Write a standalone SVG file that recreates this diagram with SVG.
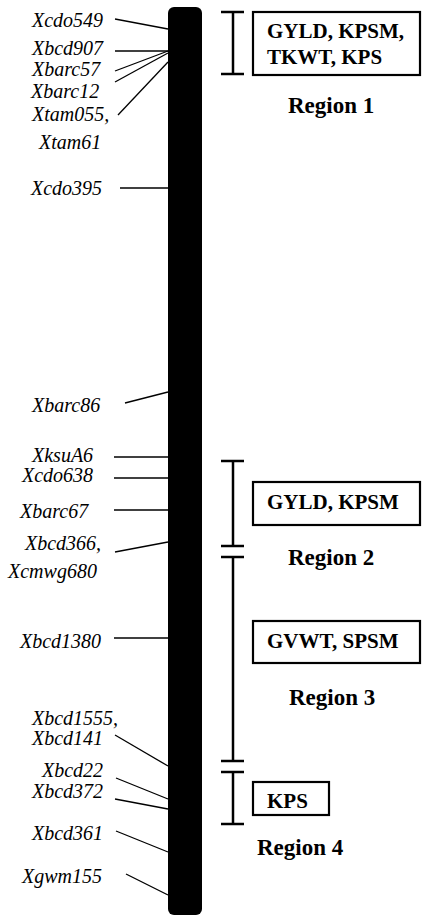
<svg xmlns="http://www.w3.org/2000/svg" width="422" height="918" viewBox="0 0 422 918">
<style>
.m{font-family:'Liberation Serif','DejaVu Serif',serif;font-style:italic;font-size:20px;fill:#000}
.b{font-family:'Liberation Serif','DejaVu Serif',serif;font-weight:bold;font-size:21px;fill:#000}
.r{font-family:'Liberation Serif','DejaVu Serif',serif;font-weight:bold;font-size:23px;fill:#000}
.c line{stroke:#000;stroke-width:1.3}
.br line{stroke:#000;stroke-width:2.5}
.bx{fill:#fff;stroke:#000;stroke-width:2.2}
</style>
<rect width="422" height="918" fill="#fff"/>
<g id="chromosome"><rect x="168" y="7" width="34" height="908" rx="6" fill="#000"/></g>
<g id="markers">
<text class="m" x="32" y="27">Xcdo549</text>
<text class="m" x="32" y="55">Xbcd907</text>
<text class="m" x="32" y="76">Xbarc57</text>
<text class="m" x="31" y="98">Xbarc12</text>
<text class="m" x="32" y="121">Xtam055,</text>
<text class="m" x="39" y="149">Xtam61</text>
<text class="m" x="31" y="195">Xcdo395</text>
<text class="m" x="32" y="412">Xbarc86</text>
<text class="m" x="32" y="462">XksuA6</text>
<text class="m" x="22" y="482">Xcdo638</text>
<text class="m" x="20" y="518">Xbarc67</text>
<text class="m" x="25" y="550">Xbcd366,</text>
<text class="m" x="8" y="578">Xcmwg680</text>
<text class="m" x="20" y="648">Xbcd1380</text>
<text class="m" x="32" y="725">Xbcd1555,</text>
<text class="m" x="32" y="745">Xbcd141</text>
<text class="m" x="42" y="777">Xbcd22</text>
<text class="m" x="32" y="798">Xbcd372</text>
<text class="m" x="32" y="840">Xbcd361</text>
<text class="m" x="22" y="883">Xgwm155</text>
</g>
<g id="connectors" class="c">
<line x1="115" y1="19" x2="168" y2="29"/>
<line x1="115" y1="51" x2="168" y2="51"/>
<line x1="115" y1="71" x2="168" y2="51"/>
<line x1="115" y1="82" x2="168" y2="53"/>
<line x1="118" y1="115" x2="168" y2="62"/>
<line x1="120" y1="188" x2="168" y2="188"/>
<line x1="125" y1="403" x2="168" y2="392"/>
<line x1="114" y1="457" x2="168" y2="457"/>
<line x1="114" y1="478" x2="168" y2="478"/>
<line x1="114" y1="510" x2="168" y2="510"/>
<line x1="115" y1="552" x2="168" y2="542"/>
<line x1="114" y1="638" x2="168" y2="638"/>
<line x1="115" y1="735" x2="168" y2="766"/>
<line x1="116" y1="778" x2="168" y2="799"/>
<line x1="115" y1="799" x2="168" y2="809"/>
<line x1="116" y1="831" x2="168" y2="852"/>
<line x1="126" y1="874" x2="168" y2="895"/>
</g>
<g id="region1">
<g class="br"><line x1="233" y1="12" x2="233" y2="74"/><line x1="221" y1="12" x2="244" y2="12"/><line x1="221" y1="74" x2="244" y2="74"/></g>
<rect class="bx" x="253" y="12" width="167" height="63"/>
<text class="b" x="267" y="38">GYLD, KPSM,</text>
<text class="b" x="267" y="64">TKWT, KPS</text>
<text class="r" x="288" y="113">Region 1</text>
</g>
<g id="region2">
<g class="br"><line x1="233" y1="461" x2="233" y2="546"/><line x1="221" y1="461" x2="244" y2="461"/><line x1="221" y1="546" x2="244" y2="546"/></g>
<rect class="bx" x="253" y="482" width="167" height="43"/>
<text class="b" x="267" y="509">GYLD, KPSM</text>
<text class="r" x="288" y="565">Region 2</text>
</g>
<g id="region3">
<g class="br"><line x1="233" y1="557" x2="233" y2="761"/><line x1="221" y1="557" x2="244" y2="557"/><line x1="221" y1="761" x2="244" y2="761"/></g>
<rect class="bx" x="253" y="621" width="167" height="42"/>
<text class="b" x="267" y="648">GVWT, SPSM</text>
<text class="r" x="289" y="705">Region 3</text>
</g>
<g id="region4">
<g class="br"><line x1="233" y1="772" x2="233" y2="824"/><line x1="221" y1="772" x2="244" y2="772"/><line x1="221" y1="824" x2="244" y2="824"/></g>
<rect class="bx" x="253" y="782" width="76" height="33"/>
<text class="b" x="267" y="808">KPS</text>
<text class="r" x="257" y="855">Region 4</text>
</g>
</svg>
